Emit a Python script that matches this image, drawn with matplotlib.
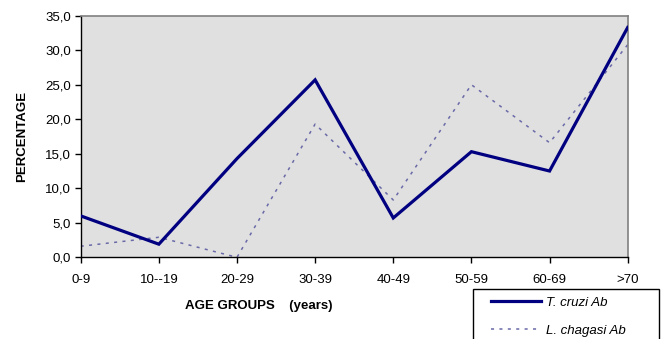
import matplotlib
matplotlib.use("Agg")
import matplotlib.pyplot as plt
from matplotlib.patches import Rectangle
from matplotlib.ticker import FuncFormatter

categories = ["0-9", "10--19", "20-29", "30-39", "40-49", "50-59", "60-69", ">70"]
t_cruzi = [6.0, 1.9, 14.3, 25.7, 5.7, 15.3, 12.5, 33.3]
l_chagasi = [1.6, 2.9, 0.0, 19.3, 8.3, 25.0, 16.6, 30.8]
yticks = [0, 5, 10, 15, 20, 25, 30, 35]

plt.rcParams['font.family'] = ['Liberation Sans', 'DejaVu Sans']
W, H = 661, 339
fig = plt.figure(figsize=(W / 100, H / 100), dpi=100)
ax = fig.add_axes([80.7 / W, 1 - 257.3 / H, (627.7 - 80.7) / W, (257.3 - 15.7) / H])
ax.set_facecolor('#E0E0E0')

x = list(range(len(categories)))
ax.plot(x, t_cruzi, color='#000080', lw=2.3, solid_joinstyle='miter', label='T. cruzi Ab', zorder=3)
ax.plot(x, l_chagasi, color='#6A6AA8', lw=1.1, linestyle=(0, (2, 3.5)), label='L. chagasi Ab', zorder=2)

ax.set_xlim(0, len(categories) - 1)
ax.set_ylim(0, 35)
ax.set_xticks(x)
ax.set_xticklabels(categories)
ax.set_yticks(yticks)
ax.yaxis.set_major_formatter(FuncFormatter(lambda v, p: f"{v:.1f}".replace('.', ',')))
ax.tick_params(axis='both', direction='out', length=4, width=1, colors='black', labelsize=9.5)
ax.tick_params(axis='x', pad=8)
ax.tick_params(axis='y', pad=3)
for s in ['left', 'bottom']:
    ax.spines[s].set_color('black')
    ax.spines[s].set_linewidth(1)
for s in ['top', 'right']:
    ax.spines[s].set_color('#808080')
    ax.spines[s].set_linewidth(1.2)

ax.set_ylabel('PERCENTAGE', fontsize=9.5, fontweight='bold', labelpad=12)
fig.text(259 / W, 1 - 306 / H, 'AGE GROUPS    (years)', fontsize=9.5, fontweight='bold',
         ha='center', va='center')

# legend
fig.patches.append(Rectangle((472.7 / W, 1 - 345 / H), (659 - 472.7) / W, (345 - 289.3) / H,
                             transform=fig.transFigure, facecolor='white', edgecolor='black',
                             lw=1, zorder=1))
leg = fig.legend(loc='upper left', bbox_to_anchor=(491 / W, 1 - 296.5 / H), frameon=False,
                 prop={'style': 'italic', 'size': 9.5}, handlelength=3.8, handletextpad=0.35,
                 labelspacing=1.22, borderpad=0, borderaxespad=0)
leg.set_zorder(2)

fig.savefig('out.png', dpi=100)
